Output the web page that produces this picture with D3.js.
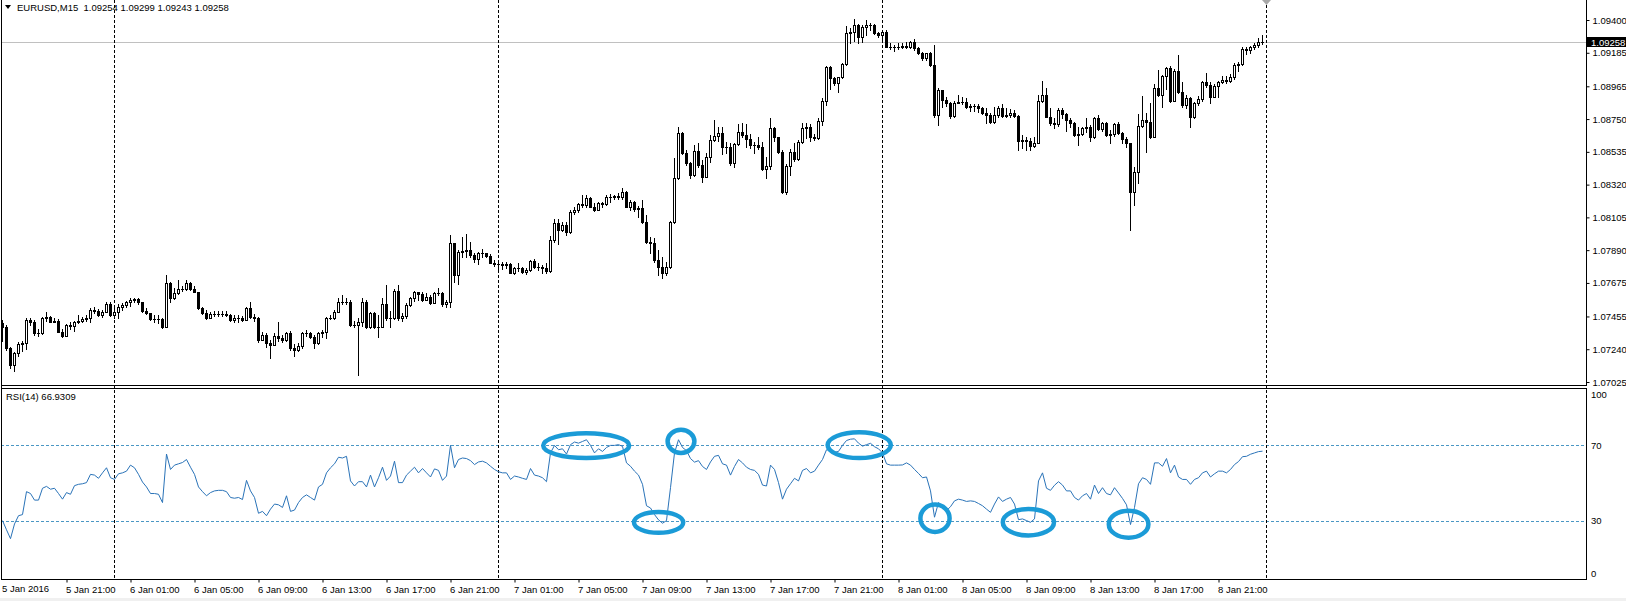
<!DOCTYPE html>
<html><head><meta charset="utf-8">
<script src="https://cdn.jsdelivr.net/npm/d3@7"></script>
<style>
html,body{margin:0;padding:0;background:#fff;}
svg{display:block;}
text{font-family:"Liberation Sans",Arial,sans-serif;font-size:9.5px;fill:#000;}
</style>
</head><body>
<svg id="c" width="1626" height="601"></svg>
<script>
// ---------- DATA ----------
const symbolTitle = "EURUSD,M15";
const lastOHLC = ["1.09254","1.09299","1.09243","1.09258"];
const rsiTitle = "RSI(14) 66.9309";
const startTime = "2016-01-05T17:00:00Z";
const barMinutes = 15;
const firstOpen = 1.07410;

const closes = [
1.07388,1.07246,1.07137,1.07213,1.07272,1.07279,1.07432,1.07421,1.07345,1.07345,
1.07443,1.07454,1.07421,1.07426,1.07356,1.07329,1.07399,1.07395,1.07417,1.07426,
1.07439,1.07443,1.07498,1.07491,1.07465,1.07487,1.07535,1.07465,1.07487,1.07520,
1.07531,1.07548,1.07563,1.07570,1.07548,1.07491,1.07476,1.07436,1.07439,1.07439,
1.07388,1.07673,1.07574,1.07607,1.07636,1.07636,1.07673,1.07636,1.07618,1.07509,
1.07476,1.07447,1.07469,1.07469,1.07473,1.07473,1.07465,1.07432,1.07447,1.07447,
1.07432,1.07509,1.07454,1.07443,1.07301,1.07334,1.07279,1.07268,1.07329,1.07312,
1.07301,1.07345,1.07246,1.07235,1.07264,1.07345,1.07345,1.07323,1.07279,1.07345,
1.07356,1.07443,1.07447,1.07487,1.07552,1.07548,1.07548,1.07399,1.07399,1.07421,
1.07552,1.07388,1.07476,1.07388,1.07388,1.07535,1.07443,1.07443,1.07622,1.07443,
1.07461,1.07531,1.07574,1.07614,1.07600,1.07563,1.07585,1.07541,1.07607,1.07607,
1.07535,1.07548,1.07935,1.07727,1.07880,1.07887,1.07891,1.07858,1.07830,1.07869,
1.07869,1.07852,1.07808,1.07799,1.07799,1.07793,1.07799,1.07742,1.07771,1.07771,
1.07749,1.07760,1.07821,1.07782,1.07782,1.07771,1.07755,1.07957,1.08070,1.08022,
1.08055,1.08011,1.08143,1.08153,1.08193,1.08186,1.08230,1.08175,1.08153,1.08202,
1.08193,1.08241,1.08241,1.08245,1.08241,1.08274,1.08175,1.08208,1.08158,1.08167,
1.08077,1.07946,1.07935,1.07825,1.07782,1.07742,1.07777,1.08073,1.08361,1.08661,
1.08530,1.08460,1.08383,1.08543,1.08449,1.08372,1.08503,1.08613,1.08639,1.08661,
1.08569,1.08569,1.08460,1.08584,1.08667,1.08645,1.08617,1.08580,1.08580,1.08565,
1.08420,1.08442,1.08689,1.08630,1.08536,1.08274,1.08442,1.08536,1.08486,1.08602,
1.08689,1.08700,1.08635,1.08624,1.08740,1.08871,1.09089,1.09017,1.08989,1.09024,
1.09111,1.09313,1.09323,1.09367,1.09291,1.09352,1.09367,1.09365,1.09313,1.09304,
1.09321,1.09225,1.09221,1.09221,1.09225,1.09229,1.09225,1.09258,1.09214,1.09186,
1.09149,1.09181,1.09105,1.08777,1.08941,1.08875,1.08853,1.08770,1.08853,1.08864,
1.08864,1.08831,1.08836,1.08836,1.08820,1.08788,1.08777,1.08733,1.08777,1.08820,
1.08770,1.08777,1.08792,1.08770,1.08608,1.08613,1.08608,1.08573,1.08595,1.08871,
1.08908,1.08766,1.08722,1.08718,1.08810,1.08783,1.08744,1.08726,1.08645,1.08652,
1.08689,1.08696,1.08635,1.08755,1.08683,1.08726,1.08645,1.08652,1.08718,1.08656,
1.08617,1.08591,1.08274,1.08405,1.08705,1.08744,1.08733,1.08635,1.08952,1.08908,
1.09033,1.09083,1.08871,1.09068,1.08930,1.08842,1.08886,1.08761,1.08853,1.08879,
1.08995,1.08974,1.08897,1.08967,1.08995,1.09006,1.09002,1.09024,1.09105,1.09111,
1.09208,1.09203,1.09221,1.09236,1.09254,1.09258];

const highs = [
1.07432,1.07399,1.07257,1.07224,1.07290,1.07294,1.07443,1.07443,1.07432,1.07373,
1.07454,1.07487,1.07461,1.07447,1.07439,1.07373,1.07404,1.07417,1.07426,1.07465,
1.07454,1.07465,1.07509,1.07520,1.07504,1.07498,1.07552,1.07548,1.07520,1.07535,
1.07541,1.07557,1.07574,1.07579,1.07574,1.07552,1.07513,1.07480,1.07465,1.07465,
1.07447,1.07727,1.07684,1.07640,1.07695,1.07657,1.07695,1.07679,1.07657,1.07607,
1.07520,1.07498,1.07487,1.07491,1.07491,1.07491,1.07491,1.07469,1.07465,1.07465,
1.07461,1.07520,1.07552,1.07469,1.07454,1.07356,1.07345,1.07301,1.07345,1.07421,
1.07334,1.07356,1.07360,1.07272,1.07279,1.07356,1.07366,1.07356,1.07334,1.07356,
1.07366,1.07454,1.07465,1.07498,1.07574,1.07596,1.07574,1.07563,1.07426,1.07443,
1.07574,1.07563,1.07487,1.07487,1.07465,1.07574,1.07662,1.07491,1.07636,1.07662,
1.07476,1.07541,1.07585,1.07622,1.07618,1.07614,1.07607,1.07596,1.07618,1.07640,
1.07614,1.07563,1.07989,1.07939,1.07891,1.07979,1.07996,1.07946,1.07869,1.07880,
1.07895,1.07874,1.07865,1.07825,1.07814,1.07814,1.07814,1.07804,1.07782,1.07804,
1.07782,1.07771,1.07825,1.07830,1.07804,1.07793,1.07804,1.07983,1.08092,1.08092,
1.08077,1.08077,1.08153,1.08175,1.08197,1.08252,1.08252,1.08241,1.08197,1.08208,
1.08208,1.08252,1.08258,1.08252,1.08263,1.08296,1.08278,1.08219,1.08215,1.08180,
1.08219,1.08121,1.07979,1.07968,1.07891,1.07847,1.07814,1.08083,1.08492,1.08700,
1.08667,1.08547,1.08471,1.08580,1.08591,1.08481,1.08525,1.08645,1.08744,1.08700,
1.08696,1.08602,1.08595,1.08595,1.08718,1.08722,1.08718,1.08652,1.08602,1.08635,
1.08602,1.08503,1.08755,1.08696,1.08635,1.08547,1.08455,1.08551,1.08595,1.08613,
1.08722,1.08722,1.08718,1.08652,1.08755,1.08886,1.09098,1.09098,1.09028,1.09028,
1.09120,1.09361,1.09345,1.09404,1.09374,1.09367,1.09400,1.09378,1.09374,1.09323,
1.09334,1.09334,1.09247,1.09236,1.09247,1.09251,1.09258,1.09264,1.09273,1.09225,
1.09192,1.09186,1.09192,1.09236,1.08952,1.08941,1.08893,1.08864,1.08871,1.08908,
1.08893,1.08886,1.08849,1.08849,1.08847,1.08831,1.08820,1.08788,1.08827,1.08836,
1.08849,1.08820,1.08814,1.08810,1.08777,1.08645,1.08635,1.08624,1.08635,1.08908,
1.09002,1.08952,1.08820,1.08755,1.08820,1.08820,1.08788,1.08755,1.08733,1.08700,
1.08700,1.08755,1.08711,1.08761,1.08777,1.08733,1.08733,1.08678,1.08726,1.08733,
1.08667,1.08635,1.08595,1.08438,1.08783,1.08901,1.08788,1.08853,1.08980,1.09072,
1.09039,1.09089,1.09098,1.09076,1.09170,1.08995,1.08908,1.08893,1.08864,1.08901,
1.09002,1.09050,1.08995,1.08980,1.09002,1.09033,1.09033,1.09046,1.09116,1.09127,
1.09221,1.09221,1.09229,1.09247,1.09280,1.09299];

const lows = [
1.07294,1.07235,1.07115,1.07098,1.07198,1.07229,1.07242,1.07399,1.07334,1.07329,
1.07338,1.07426,1.07417,1.07417,1.07351,1.07323,1.07325,1.07373,1.07360,1.07410,
1.07421,1.07426,1.07417,1.07476,1.07461,1.07454,1.07482,1.07461,1.07443,1.07447,
1.07498,1.07520,1.07526,1.07548,1.07539,1.07482,1.07469,1.07430,1.07417,1.07410,
1.07382,1.07388,1.07548,1.07570,1.07600,1.07622,1.07627,1.07627,1.07614,1.07504,
1.07469,1.07439,1.07443,1.07461,1.07461,1.07461,1.07461,1.07426,1.07421,1.07417,
1.07426,1.07439,1.07447,1.07426,1.07286,1.07301,1.07257,1.07181,1.07272,1.07294,
1.07290,1.07294,1.07235,1.07198,1.07229,1.07251,1.07329,1.07312,1.07246,1.07272,
1.07323,1.07316,1.07439,1.07439,1.07482,1.07535,1.07535,1.07395,1.07388,1.07071,
1.07395,1.07382,1.07377,1.07377,1.07323,1.07439,1.07432,1.07388,1.07439,1.07432,
1.07426,1.07447,1.07526,1.07557,1.07563,1.07557,1.07570,1.07535,1.07548,1.07596,
1.07526,1.07520,1.07519,1.07683,1.07668,1.07847,1.07847,1.07847,1.07814,1.07799,
1.07847,1.07843,1.07804,1.07786,1.07760,1.07764,1.07771,1.07738,1.07734,1.07755,
1.07738,1.07734,1.07755,1.07771,1.07760,1.07742,1.07738,1.07749,1.07946,1.07930,
1.08018,1.07989,1.08005,1.08127,1.08143,1.08175,1.08175,1.08171,1.08149,1.08153,
1.08175,1.08186,1.08208,1.08228,1.08223,1.08223,1.08171,1.08153,1.08149,1.08110,
1.08066,1.07939,1.07869,1.07814,1.07727,1.07705,1.07727,1.07771,1.08066,1.08355,
1.08521,1.08449,1.08361,1.08377,1.08438,1.08339,1.08372,1.08471,1.08608,1.08608,
1.08521,1.08525,1.08449,1.08438,1.08580,1.08635,1.08569,1.08558,1.08525,1.08551,
1.08416,1.08361,1.08420,1.08608,1.08525,1.08267,1.08258,1.08383,1.08477,1.08481,
1.08595,1.08624,1.08608,1.08613,1.08617,1.08711,1.08842,1.08945,1.08974,1.08930,
1.09017,1.09105,1.09247,1.09264,1.09251,1.09258,1.09302,1.09334,1.09308,1.09291,
1.09269,1.09221,1.09208,1.09199,1.09208,1.09214,1.09214,1.09214,1.09203,1.09177,
1.09138,1.09138,1.09098,1.08766,1.08711,1.08831,1.08836,1.08755,1.08766,1.08853,
1.08849,1.08820,1.08805,1.08805,1.08799,1.08783,1.08722,1.08726,1.08726,1.08766,
1.08766,1.08766,1.08761,1.08761,1.08547,1.08558,1.08547,1.08547,1.08569,1.08591,
1.08864,1.08761,1.08711,1.08689,1.08705,1.08755,1.08674,1.08700,1.08639,1.08580,
1.08645,1.08667,1.08608,1.08624,1.08678,1.08674,1.08639,1.08595,1.08639,1.08652,
1.08595,1.08565,1.08022,1.08186,1.08333,1.08696,1.08536,1.08624,1.08630,1.08901,
1.08831,1.08945,1.08864,1.08871,1.08923,1.08831,1.08820,1.08700,1.08755,1.08842,
1.08871,1.08958,1.08858,1.08893,1.08897,1.08985,1.08985,1.08995,1.09011,1.09068,
1.09105,1.09177,1.09186,1.09208,1.09221,1.09243];

const rsiValues = [
30.0,25.1,20.4,28.2,32.6,33.2,45.4,44.4,40.9,40.9,
47.2,48.2,46.7,47.2,44.4,41.4,44.9,44.0,48.6,49.3,
49.6,50.2,54.6,54.2,52.5,55.4,58.1,52.8,51.9,54.9,
55.4,56.3,59.5,58.1,54.6,50.5,47.9,44.4,44.4,44.0,
39.6,65.4,57.2,59.5,60.2,60.9,62.5,58.4,54.6,47.9,
45.4,43.2,44.9,45.8,46.1,46.1,45.4,42.3,41.9,42.3,
41.2,51.4,45.8,42.3,33.9,34.9,32.6,36.1,38.8,38.4,
37.0,43.2,34.9,35.6,39.6,42.3,43.7,42.3,40.9,47.9,
49.3,55.4,58.1,60.2,63.7,63.3,64.2,51.1,48.4,50.7,
50.7,47.9,54.2,47.9,52.8,58.4,51.4,53.7,61.6,50.2,
50.2,54.2,56.3,58.4,55.4,57.7,55.4,53.2,57.5,56.7,
51.4,53.7,70.0,58.1,62.5,63.3,63.0,61.9,59.8,61.2,
61.6,60.7,58.9,57.2,56.0,55.4,55.4,51.9,53.7,53.2,
52.5,51.9,57.7,54.2,53.7,52.8,50.7,66.0,70.0,67.7,
68.2,65.4,70.4,71.8,71.2,72.1,73.0,70.0,66.0,68.2,
66.8,68.9,70.0,70.0,70.4,69.5,60.7,58.9,56.3,54.2,
49.3,37.9,36.7,33.2,30.4,28.6,30.0,47.5,66.0,73.0,
68.9,67.2,63.0,61.1,61.9,58.8,57.2,61.2,64.2,64.7,
60.2,59.5,54.2,58.8,62.5,60.7,58.4,57.2,56.7,54.6,
48.9,48.4,59.5,57.2,50.2,41.4,46.7,49.6,52.5,51.1,
56.7,57.7,55.4,56.3,59.5,62.5,67.7,67.5,66.3,66.8,
70.0,72.6,73.3,73.5,71.2,69.6,70.4,71.1,69.3,68.2,
66.0,60.2,59.5,59.5,59.5,59.6,60.7,59.5,57.2,55.1,
52.8,53.2,45.8,31.8,39.6,37.9,35.3,37.4,40.5,41.4,
40.9,40.2,40.5,40.2,39.1,37.9,36.1,34.4,38.8,42.6,
40.2,41.4,42.3,38.8,30.5,30.9,30.0,29.1,30.9,51.1,
55.4,47.2,46.1,48.8,50.7,48.9,45.8,45.8,42.3,40.9,
43.2,44.4,41.4,48.9,44.4,47.5,44.4,43.7,47.5,44.7,
41.8,38.4,27.9,37.0,49.6,52.8,51.9,49.3,60.7,60.7,
58.9,63.0,55.4,59.5,53.2,51.9,51.9,49.3,51.9,52.8,
55.4,56.3,53.2,54.9,56.3,56.3,55.4,57.2,59.8,61.4,
64.0,64.2,65.3,66.0,66.7,66.93];

const priceTicks = [1.09400,1.09185,1.08965,1.08750,1.08535,1.08320,1.08105,1.07890,1.07675,1.07455,1.07240,1.07025];
const priceDomain = [1.07025, 1.09400];
const rsiLabels = [100,70,30,0];
const rsiLevels = [70,30];
const timeTicks = ["2016-01-05T21:00Z","2016-01-06T01:00Z","2016-01-06T05:00Z","2016-01-06T09:00Z","2016-01-06T13:00Z","2016-01-06T17:00Z","2016-01-06T21:00Z","2016-01-07T01:00Z","2016-01-07T05:00Z","2016-01-07T09:00Z","2016-01-07T13:00Z","2016-01-07T17:00Z","2016-01-07T21:00Z","2016-01-08T01:00Z","2016-01-08T05:00Z","2016-01-08T09:00Z","2016-01-08T13:00Z","2016-01-08T17:00Z","2016-01-08T21:00Z"];
const daySeparators = ["2016-01-06T00:00Z","2016-01-07T00:00Z","2016-01-08T00:00Z","2016-01-09T00:00Z"];
// annotation ellipses: bar-index span and RSI span
const markBars = [[135.3,156.8],[158.0,170.3],[166.4,173.1],[206.4,222.2],[229.6,236.9],[250.2,263.0],[276.7,286.6]];
const markRsi  = [[76.5,63.3],[34.6,23.5],[78.3,66.0],[77.0,63.3],[38.5,24.0],[36.2,22.1],[35.3,20.9]];

// ---------- LAYOUT ----------
const PR = 1586;           // right edge of plot (price axis line)
const MAIN_BOT = 385, RSI_TOP = 388, RSI_BOT = 579;
const svg = d3.select("#c");
const t0 = new Date(startTime).getTime();
const tBar = i => new Date(t0 + i*barMinutes*60000);
const n = closes.length;
const x = d3.scaleUtc().domain([tBar(0), tBar(n)]).range([2, 2 + 4*n]);
const y = d3.scaleLinear().domain(priceDomain).range([382, 20]);
const yr = d3.scaleLinear().domain([0,100]).range([577, 389]);
const xb = i => x(tBar(i));

svg.append("rect").attr("width",1626).attr("height",601).attr("fill","#fff");
svg.append("rect").attr("x",0).attr("y",598).attr("width",1626).attr("height",3).attr("fill","#f0f0f0");

// current price line
svg.append("line").attr("x1",1).attr("x2",PR).attr("y1",Math.round(y(+lastOHLC[3]))+0.5).attr("y2",Math.round(y(+lastOHLC[3]))+0.5)
  .attr("stroke","#c0c0c0").attr("stroke-width",1);

// RSI levels
svg.selectAll("line.lvl").data(rsiLevels).join("line").attr("class","lvl")
  .attr("x1",1).attr("x2",PR).attr("y1",d=>Math.round(yr(d))+0.5).attr("y2",d=>Math.round(yr(d))+0.5)
  .attr("stroke","#4a97c4").attr("stroke-width",1).attr("stroke-dasharray","3,2");

// day separators
svg.selectAll("line.sep").data(daySeparators).join("line").attr("class","sep")
  .attr("x1",d=>Math.round(x(new Date(d)))+0.5).attr("x2",d=>Math.round(x(new Date(d)))+0.5)
  .attr("y1",0).attr("y2",RSI_BOT).attr("stroke","#000").attr("stroke-width",1).attr("stroke-dasharray","3,2");

// candles
const bars = closes.map((c,i)=>({i, o: i===0 ? firstOpen : closes[i-1], c, h: highs[i], l: lows[i]}));
const cg = svg.append("g").attr("shape-rendering","crispEdges");
cg.selectAll("line.wick").data(bars).join("line").attr("class","wick")
  .attr("x1",d=>Math.round(xb(d.i))+0.5).attr("x2",d=>Math.round(xb(d.i))+0.5)
  .attr("y1",d=>Math.round(y(Math.max(d.h,d.o,d.c))))
  .attr("y2",d=>Math.round(y(Math.min(d.l,d.o,d.c)))+1)
  .attr("stroke","#000").attr("stroke-width",1);
cg.selectAll("rect.body").data(bars).join("rect").attr("class","body")
  .each(function(d){
    const X = Math.round(xb(d.i));
    const top = Math.round(y(Math.max(d.o,d.c))), bot = Math.round(y(Math.min(d.o,d.c)));
    const s = d3.select(this);
    if (d.c > d.o && bot - top >= 2) {
      s.attr("x",X-0.5).attr("y",top+0.5).attr("width",2).attr("height",bot-top)
       .attr("fill","#fff").attr("stroke","#000").attr("stroke-width",1);
    } else {
      s.attr("x",X-1).attr("y",top).attr("width",3).attr("height",Math.max(1,bot-top+1)).attr("fill","#000");
    }
  });

// RSI line
svg.append("path").datum(rsiValues)
  .attr("d", d3.line().x((d,i)=>xb(i)+0.5).y(d=>yr(d)))
  .attr("fill","none").attr("stroke","#2a73b8").attr("stroke-width",1);

// annotation ellipses
svg.selectAll("ellipse.mark").data(markBars).join("ellipse").attr("class","mark")
  .attr("cx",(d)=>(xb(d[0])+xb(d[1]))/2)
  .attr("cy",(d,i)=>(yr(markRsi[i][0])+yr(markRsi[i][1]))/2)
  .attr("rx",d=>(xb(d[1])-xb(d[0]))/2)
  .attr("ry",(d,i)=>Math.abs(yr(markRsi[i][1])-yr(markRsi[i][0]))/2)
  .attr("fill","none").attr("stroke","#1b9bd7").attr("stroke-width",4.5);

// frame
const fg = svg.append("g").attr("shape-rendering","crispEdges").attr("stroke","#000").attr("stroke-width",1);
fg.append("line").attr("x1",1.5).attr("x2",1.5).attr("y1",0).attr("y2",RSI_BOT+1);
fg.append("line").attr("x1",1).attr("x2",PR+1).attr("y1",MAIN_BOT+0.5).attr("y2",MAIN_BOT+0.5);
fg.append("line").attr("x1",1).attr("x2",PR+1).attr("y1",RSI_TOP+0.5).attr("y2",RSI_TOP+0.5);
fg.append("line").attr("x1",1).attr("x2",PR+1).attr("y1",RSI_BOT+0.5).attr("y2",RSI_BOT+0.5);

// price axis
const pa = svg.append("g").attr("transform",`translate(${PR+0.5},0)`)
  .call(d3.axisRight(y).tickValues(priceTicks).tickFormat(d3.format(".5f")).tickSize(3).tickPadding(3));
pa.select(".domain").attr("d",`M0,0V${MAIN_BOT+1}`).attr("stroke","#000").attr("shape-rendering","crispEdges");
pa.selectAll(".tick line").attr("stroke","#000");
pa.attr("font-family",null).attr("font-size",null);

// RSI axis
svg.append("line").attr("x1",PR+0.5).attr("x2",PR+0.5).attr("y1",RSI_TOP).attr("y2",RSI_BOT+1).attr("stroke","#000").attr("shape-rendering","crispEdges");
svg.selectAll("text.rsil").data(rsiLabels).join("text").attr("class","rsil")
  .attr("x",PR+5)
  .attr("y",d=>{const v=yr(d); return (d===100? Math.max(v,RSI_TOP+6) : d===0 ? Math.min(v,RSI_BOT-6) : v)+3.5;})
  .text(d=>d);

// current price label
const cy = Math.round(y(+lastOHLC[3]));
svg.append("rect").attr("x",PR+1).attr("y",cy-5).attr("width",40).attr("height",10).attr("fill","#000");
svg.append("text").attr("x",PR+5).attr("y",cy+3.5).style("fill","#fff").text(lastOHLC[3]);

// time axis
const ta = svg.append("g").attr("transform",`translate(0.5,${RSI_BOT+0.5})`)
  .call(d3.axisBottom(x).tickValues(timeTicks.map(d=>new Date(d))).tickFormat(d3.utcFormat("%-d %b %H:%M")).tickSize(3).tickPadding(4));
ta.select(".domain").remove();
ta.attr("font-family",null).attr("font-size",null);
ta.selectAll(".tick line").attr("stroke","#000");
ta.selectAll(".tick text").attr("text-anchor","start").attr("x",-1);
svg.append("text").attr("x",2).attr("y",RSI_BOT+13).text(d3.utcFormat("%-d %b %Y")(tBar(0)));

// header
svg.append("path").attr("d","M5,5L11,5L8,9Z").attr("fill","#000");
svg.append("text").attr("x",17).attr("y",10.5).attr("xml:space","preserve")
  .text(symbolTitle + "  " + lastOHLC.join(" "));
svg.append("text").attr("x",6).attr("y",399.5).text(rsiTitle);

// chart shift marker
svg.append("path").attr("d",`M${xb(n)-4},0L${xb(n)+5},0L${xb(n)+0.5},5Z`).attr("fill","#a8a8a8");
</script>
</body></html>
